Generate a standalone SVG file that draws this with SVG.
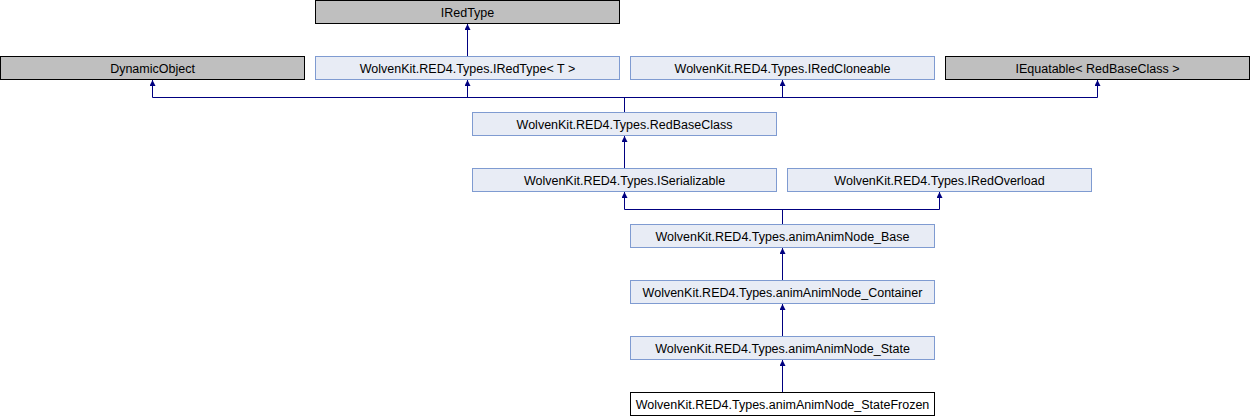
<svg xmlns="http://www.w3.org/2000/svg" width="1250" height="416" viewBox="0 0 1250 416">
<style>
.n rect{stroke-width:1}
.ext rect{fill:#bfbfbf;stroke:#000000}
.cls rect{fill:#e8ecf5;stroke:#7f9bd1}
.cur rect{fill:#ffffff;stroke:#000000}
text{font-family:"Liberation Sans",Arial,sans-serif;font-size:12.5px;fill:#000000;text-anchor:middle}
.e line,.e polyline{stroke:#000080;stroke-width:1;fill:none}
</style>
<defs>
<marker id="ah" viewBox="0 0 10 10" refX="10" refY="5" markerWidth="7" markerHeight="6" markerUnits="userSpaceOnUse" orient="auto">
<path d="M0,0 L10,5 L0,10 z" fill="#000080"/>
</marker>
</defs>
<rect width="1250" height="416" fill="#ffffff"/>
<g class="e" id="connectors">
<line x1="467.5" y1="56.5" x2="467.5" y2="24" marker-end="url(#ah)"/>
<polyline points="624.5,112.5 624.5,97.5"/>
<line x1="152.5" y1="97.5" x2="1097.5" y2="97.5"/>
<line x1="152.5" y1="97.5" x2="152.5" y2="80" marker-end="url(#ah)"/>
<line x1="467.5" y1="97.5" x2="467.5" y2="80" marker-end="url(#ah)"/>
<line x1="782.5" y1="97.5" x2="782.5" y2="80" marker-end="url(#ah)"/>
<line x1="1097.5" y1="97.5" x2="1097.5" y2="80" marker-end="url(#ah)"/>
<line x1="624.5" y1="168.5" x2="624.5" y2="136" marker-end="url(#ah)"/>
<polyline points="782.5,224.5 782.5,209.5"/>
<line x1="624.5" y1="209.5" x2="939.5" y2="209.5"/>
<line x1="624.5" y1="209.5" x2="624.5" y2="192" marker-end="url(#ah)"/>
<line x1="939.5" y1="209.5" x2="939.5" y2="192" marker-end="url(#ah)"/>
<line x1="782.5" y1="280.5" x2="782.5" y2="248" marker-end="url(#ah)"/>
<line x1="782.5" y1="336.5" x2="782.5" y2="304" marker-end="url(#ah)"/>
<line x1="782.5" y1="392.5" x2="782.5" y2="360" marker-end="url(#ah)"/>
</g>
<g id="IRedType" class="n ext"><rect x="315.5" y="0.5" width="304" height="23"/><text x="467.5" y="16.5">IRedType</text></g>
<g id="DynamicObject" class="n ext"><rect x="0.5" y="56.5" width="304" height="23"/><text x="152.5" y="72.5">DynamicObject</text></g>
<g id="IRedTypeT" class="n cls"><rect x="315.5" y="56.5" width="304" height="23"/><text x="467.5" y="72.5">WolvenKit.RED4.Types.IRedType&lt; T &gt;</text></g>
<g id="IRedCloneable" class="n cls"><rect x="630.5" y="56.5" width="304" height="23"/><text x="782.5" y="72.5">WolvenKit.RED4.Types.IRedCloneable</text></g>
<g id="IEquatable" class="n ext"><rect x="945.5" y="56.5" width="304" height="23"/><text x="1097.5" y="72.5">IEquatable&lt; RedBaseClass &gt;</text></g>
<g id="RedBaseClass" class="n cls"><rect x="472.5" y="112.5" width="304" height="23"/><text x="624.5" y="128.5">WolvenKit.RED4.Types.RedBaseClass</text></g>
<g id="ISerializable" class="n cls"><rect x="472.5" y="168.5" width="304" height="23"/><text x="624.5" y="184.5">WolvenKit.RED4.Types.ISerializable</text></g>
<g id="IRedOverload" class="n cls"><rect x="787.5" y="168.5" width="304" height="23"/><text x="939.5" y="184.5">WolvenKit.RED4.Types.IRedOverload</text></g>
<g id="animAnimNode_Base" class="n cls"><rect x="630.5" y="224.5" width="304" height="23"/><text x="782.5" y="240.5">WolvenKit.RED4.Types.animAnimNode_Base</text></g>
<g id="animAnimNode_Container" class="n cls"><rect x="630.5" y="280.5" width="304" height="23"/><text x="782.5" y="296.5">WolvenKit.RED4.Types.animAnimNode_Container</text></g>
<g id="animAnimNode_State" class="n cls"><rect x="630.5" y="336.5" width="304" height="23"/><text x="782.5" y="352.5">WolvenKit.RED4.Types.animAnimNode_State</text></g>
<g id="animAnimNode_StateFrozen" class="n cur"><rect x="630.5" y="392.5" width="304" height="23"/><text x="782.5" y="408.5">WolvenKit.RED4.Types.animAnimNode_StateFrozen</text></g>
</svg>
